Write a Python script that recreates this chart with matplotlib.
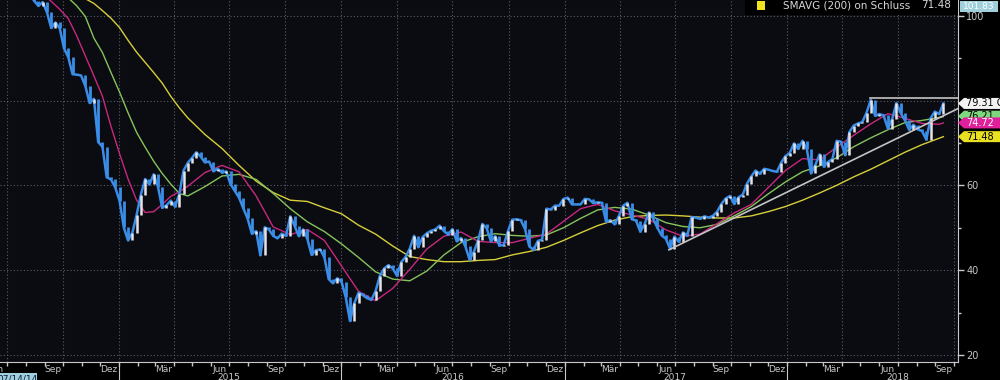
import numpy as np
import pandas as pd
import matplotlib
matplotlib.use("Agg")
import matplotlib.pyplot as plt
import matplotlib.dates as mdates
from matplotlib.patches import Polygon, Rectangle
from matplotlib.transforms import IdentityTransform, blended_transform_factory

# weekly closes (CO1)
close_2014 = [107.2, 108.4, 105.0, 105.0, 103.5, 102.3, 103.2, 100.8, 97.1, 98.4, 97.0, 92.3,
              90.2, 86.2, 86.1, 85.9, 83.4, 79.4, 80.4, 70.2, 69.1, 61.9, 61.4, 59.5]
close_2015 = [56.4, 50.1, 47.0, 48.8, 53.0, 57.8, 61.5, 60.2, 62.6, 59.7, 54.7, 55.3, 56.4,
              55.0, 57.9, 63.5, 65.3, 66.5, 67.8, 66.8, 65.4, 65.6, 63.3, 63.9, 63.0, 63.3,
              60.3, 58.7, 57.1, 54.6, 52.2, 48.6, 49.2, 43.5, 50.1, 49.6, 48.1, 47.5, 48.6,
              48.1, 52.7, 50.5, 48.0, 49.6, 47.4, 43.6, 44.7, 44.9, 43.0, 37.9, 36.9, 38.1]
close_2016 = [37.3, 33.6, 28.0, 32.2, 34.7, 34.1, 33.4, 33.0, 35.1, 38.7, 40.4, 41.2, 40.4,
              38.7, 41.9, 43.1, 45.1, 48.1, 45.4, 47.8, 48.7, 49.3, 49.6, 50.5, 49.2, 48.4,
              49.7, 46.8, 47.6, 45.7, 42.5, 44.3, 47.0, 50.9, 49.9, 46.8, 48.0, 45.8, 45.9,
              49.2, 51.9, 52.0, 51.8, 49.7, 45.6, 44.8, 46.9, 47.2, 54.5, 54.3, 55.2, 55.2, 56.8]
close_2017 = [57.1, 55.5, 55.5, 55.5, 56.8, 56.7, 55.8, 56.0, 55.9, 51.4, 51.8, 50.8, 52.8,
              55.2, 55.9, 52.0, 51.7, 49.1, 50.8, 53.6, 52.2, 50.0, 48.2, 47.4, 45.0, 47.9,
              46.7, 48.9, 48.1, 52.5, 52.4, 52.1, 52.7, 52.4, 52.8, 53.8, 55.6, 56.9, 57.5,
              55.6, 57.2, 57.8, 60.4, 62.1, 63.5, 62.7, 63.9, 63.7, 63.4, 63.2, 65.3, 66.9]
close_2018 = [67.6, 69.9, 68.6, 70.5, 68.6, 62.8, 64.8, 67.3, 64.4, 65.5, 66.2, 70.5, 70.3,
              67.1, 72.6, 74.1, 74.6, 74.9, 77.1, 80.2, 76.4, 76.8, 76.5, 73.4, 75.6, 79.4,
              77.1, 75.3, 73.1, 74.3, 73.2, 72.8, 70.8, 75.8, 77.4, 76.8, 79.31]
close = close_2014 + close_2015 + close_2016 + close_2017 + close_2018
dates = pd.date_range("2014-07-18", periods=len(close), freq="W-FRI")

# moving averages: every 2nd week for the first 40 weeks, then every 4th week, plus the last week
ma_idx = list(range(0, 40, 2)) + list(range(40, len(close), 4)) + [len(close) - 1]
sma50 = [111, 109, 106.5, 105, 103.4, 101.5, 99.3, 95.2, 90.5, 85.8, 81.0, 73.9, 67.5, 61.5,
         56.5, 53.6, 53.8, 55.5, 57.4, 58.5,
         59.8, 63.0, 64.7, 63.2, 57.5, 50.2, 48.4, 49.6, 47.0, 41.0, 35.0, 32.8, 35.7, 40.2,
         45.0, 48.0, 49.0, 46.8, 46.5,
         46.5, 47.5, 48.5, 51.5, 54.5, 55.5, 54.0, 53.0, 52.0, 49.5, 48.0, 48.5, 51.0, 53.5,
         55.5, 59.5, 63.5, 66.3, 66.0, 69.0, 71.8, 74.5, 76.9, 75.8, 74.6, 74.4, 74.72]
sma100 = [112, 110.5, 109, 107.5, 106.5, 105.3, 104.2, 102.3, 99.8, 94.7, 91.3, 86.6, 82.0,
          77.1, 72.5, 69.0, 65.7, 62.8, 60.3, 58.1,
          57.5, 59.7, 62.2, 62.6, 61.4, 58.1, 54.5, 51.4, 49.1, 46.2, 43.0, 39.6, 37.9, 37.5,
          39.8, 43.6, 46.5, 47.9, 48.6,
          48.2, 48.0, 48.3, 50.0, 52.2, 54.2, 54.8, 54.4, 53.0, 51.2, 50.3, 50.0, 50.8, 52.8,
          55.0, 58.0, 60.8, 63.2, 64.6, 66.5, 69.1, 71.2, 73.1, 74.8, 75.3, 76.0, 76.2]
sma200 = [108.5, 108, 107.5, 107, 106.3, 105.7, 105, 104.4, 104, 102.9, 101.2, 99.4, 97.2,
          94.2, 91.4, 89.0, 86.6, 84.1, 81.0, 78.3,
          75.9, 72.0, 68.7, 64.7, 61.0, 58.3, 56.5, 56.2, 54.7, 53.3, 50.6, 48.5, 45.7, 43.2,
          42.5, 42.0, 42.0, 42.3, 42.5,
          43.6, 44.4, 45.4, 47.0, 48.8, 50.5, 51.8, 52.6, 52.9, 53.0, 52.8, 52.5, 52.3, 52.3,
          52.8, 53.8, 55.0, 56.5, 58.2, 60.0, 62.0, 63.8, 65.8, 67.8, 69.6, 71.1, 71.48]

# trend lines
trend_dates = pd.to_datetime(["2017-06-21", "2018-10-08"])
trend_vals = [44.8, 78.1]
resist_dates = pd.to_datetime(["2018-05-17", "2018-10-08"])
resist_vals = [80.5, 80.5]

W, H = 1000, 380
fig = plt.figure(figsize=(W / 100, H / 100), dpi=100, facecolor="black")
ax = fig.add_axes([0, 18 / H, 958 / W, 362 / H])
ax.set_facecolor("#0b0b12")

c = np.array(close)
prev = np.r_[c[0], c[:-1]]
up = c >= prev
ax.plot(dates, c, color="#3a8ee8", lw=1.8, zorder=3)
ax.vlines(dates[~up], prev[~up], c[~up], color="#3a8ee8", lw=2.0, zorder=3)
ax.vlines(dates[up], prev[up], c[up], color="#e4e4e8", lw=1.8, zorder=3)

md = dates[ma_idx]
ax.plot(md, sma200, color="#d6cf3a", lw=1.0, zorder=2)
ax.plot(md, sma100, color="#86c45a", lw=1.0, zorder=2)
ax.plot(md, sma50, color="#c8287f", lw=1.0, zorder=2)

ax.plot(trend_dates, trend_vals, color="#c4c4c4", lw=1.2, zorder=4)
ax.plot(resist_dates, resist_vals, color="#c4c4c4", lw=1.2, zorder=4)

ax.set_xlim(pd.Timestamp("2014-06-20"), pd.Timestamp("2018-10-08"))
ax.set_ylim(18.35, 103.7)

# y axis on right
ax.yaxis.tick_right()
ax.set_yticks([20, 40, 60, 100])
ax.set_yticks([30, 50, 70, 90], minor=True)
ax.tick_params(axis="y", which="major", colors="#c8c8c8", labelsize=7, length=4, width=1, pad=2)
ax.tick_params(axis="y", which="minor", colors="#c8c8c8", length=2.5, width=1)

# x axis: quarter grid lines, monthly ticks
ax.xaxis.set_major_locator(mdates.MonthLocator([1, 4, 7, 10]))
ax.xaxis.set_minor_locator(mdates.MonthLocator())
ax.tick_params(axis="x", which="both", colors="#c8c8c8", length=3, width=1, labelbottom=False)

for v in [20, 40, 60, 80, 100]:
    ax.axhline(v, color="#5c5c66", lw=0.8, ls=(0, (1, 2)), zorder=1)
for d in pd.date_range("2014-07-01", "2018-10-01", freq="QS"):
    ax.axvline(d, color="#5c5c66", lw=0.8, ls=(0, (1, 2)), zorder=1)

for s in ["top", "left"]:
    ax.spines[s].set_visible(False)
ax.spines["bottom"].set_color("#c8c8c8")
ax.spines["right"].set_color("#c8c8c8")

bx = blended_transform_factory(ax.transData, ax.transAxes)
month_names = {3: "Mär", 6: "Jun", 9: "Sep", 12: "Dez"}
for d in pd.date_range("2014-06-01", "2018-09-01", freq="MS"):
    if d.month in month_names:
        ax.text(d + pd.Timedelta(days=14), -0.02, month_names[d.month], transform=bx,
                color="#c8c8c8", fontsize=6.5, ha="center", va="center", clip_on=False)
for yr in [2015, 2016, 2017, 2018]:
    ax.text(pd.Timestamp(f"{yr}-07-01"), -0.044, str(yr), transform=bx, color="#c8c8c8",
            fontsize=6.5, ha="center", va="center", clip_on=False)
    ax.plot([pd.Timestamp(f"{yr}-01-01")] * 2, [-0.005, -0.06], transform=bx,
            color="#c8c8c8", lw=0.8, clip_on=False)

# value tags on the right, later tags drawn on top of earlier ones
ident = IdentityTransform()


def tag(v, text, fc, tc, z):
    y = ax.transData.transform((ax.get_xlim()[0], v))[1]
    h = 5.5
    pts = [(958, y), (964, y + h), (W, y + h), (W, y - h), (964, y - h)]
    fig.patches.append(Polygon(pts, closed=True, fc=fc, ec="none", transform=ident,
                               figure=fig, zorder=z))
    fig.text(966 / W, y / H, text, color=tc, fontsize=7, ha="left", va="center", zorder=z + 0.5)


tag(79.31, "79.31 CO1", "#f2f2f2", "#000000", 10)
tag(76.3, "76.21", "#7ed87e", "#000000", 11)
tag(74.72, "74.72", "#e0209a", "#ffffff", 12)
tag(71.48, "71.48", "#e8e020", "#000000", 13)

# top high label
fig.patches.append(Rectangle((960 / W, 368 / H), 38 / W, 11 / H, transform=fig.transFigure,
                             fc="#9fd0dc", ec="none", figure=fig))
fig.text(979 / W, 373.5 / H, "101.83", color="#ffffff", fontsize=6.5, ha="center", va="center")

# start date label
fig.patches.append(Rectangle((0, 0), 37 / W, 7 / H, transform=fig.transFigure,
                             fc="#9fd0dc", ec="none", figure=fig))
fig.text(18 / W, 1 / H, "07/14/14", color="#0b1a40", fontsize=6.5, ha="center", va="center")

# legend (only the last line is visible)
fig.patches.append(Rectangle((745 / W, 365 / H), 213 / W, 15 / H, transform=fig.transFigure,
                             fc="#000000", ec="none", figure=fig, zorder=5))
fig.patches.append(Rectangle((757 / W, 370 / H), 8 / W, 9 / H, transform=fig.transFigure,
                             fc="#f0e41e", ec="none", figure=fig, zorder=6))
fig.text(783 / W, 372 / H, "SMAVG (200) on Schluss", color="#d8d8d8", fontsize=7.5,
         ha="left", va="baseline", zorder=6)
fig.text(951 / W, 372 / H, "71.48", color="#d8d8d8", fontsize=7.5,
         ha="right", va="baseline", zorder=6)

fig.savefig("out.png", dpi=100, facecolor="black")
